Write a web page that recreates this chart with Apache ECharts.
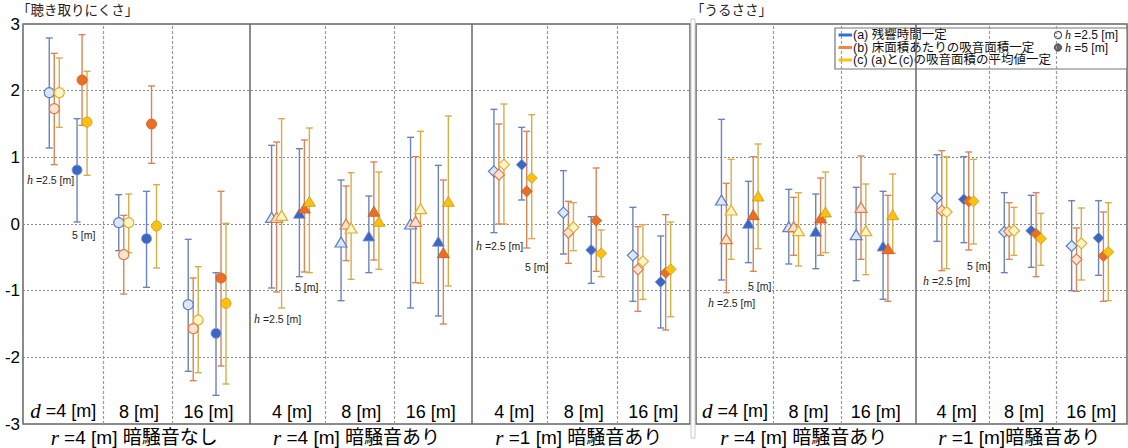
<!DOCTYPE html>
<html><head><meta charset="utf-8">
<script src="https://cdn.jsdelivr.net/npm/echarts@6/dist/echarts.min.js"></script>
<style>html,body{margin:0;padding:0;background:#fff}#c{width:1128px;height:448px}</style>
</head><body><div id="c"></div>
<script>
// ---------- data ----------
const subgroupLabels = ['d =4 [m]','8 [m]','16 [m]','4 [m]','8 [m]','16 [m]','4 [m]','8 [m]','16 [m]',
                        'd =4 [m]','8 [m]','16 [m]','4 [m]','8 [m]','16 [m]'];
const groupLabelsLeft = ['r =4 [m] 暗騒音なし','r =4 [m] 暗騒音あり','r =1 [m] 暗騒音あり'];
const groupLabelsRight = ['r =4 [m] 暗騒音あり','r =1 [m]暗騒音あり'];
const groupSymbolsLeft = ['circle','triangle','diamond'];
const groupSymbolsRight = ['triangle','diamond'];
const yTicks = [-3,-2,-1,0,1,2,3];
const titleLeft = '「聴き取りにくさ」';
const titleRight = '「うるささ」';
const methodNames = ['(a) 残響時間一定','(b) 床面積あたりの吸音面積一定','(c) (a)と(c)の吸音面積の平均値一定'];
const heightNames = ['h =2.5 [m]','h =5 [m]'];

// h = 2.5 m
const meanA25 = [1.97, 0.02, -1.21, 0.10, -0.27, 0.00, 0.79, 0.17, -0.47, 0.36, -0.04, -0.16, 0.39, -0.12, -0.33];
const hiA25   = [2.79, 0.44, -0.23, 1.18, 0.66, 1.30, 1.72, 0.80, 0.25, 1.57, 0.52, 0.55, 1.04, 0.47, 0.35];
const loA25   = [1.14, -0.40, -2.21, -0.96, -1.15, -1.26, -0.13, -0.45, -1.16, -0.84, -0.60, -0.85, -0.26, -0.73, -1.00];
const meanB25 = [1.73, -0.46, -1.57, 0.10, 0.00, 0.04, 0.74, -0.13, -0.68, -0.22, -0.04, 0.25, 0.20, -0.11, -0.53];
const hiB25   = [2.56, 0.13, -0.81, 1.23, 0.57, 1.01, 1.50, 0.34, -0.04, 0.61, 0.40, 1.02, 1.10, 0.32, -0.06];
const loB25   = [0.89, -1.05, -2.35, -1.02, -0.55, -0.88, 0.00, -0.59, -1.31, -1.03, -0.47, -0.53, -0.70, -0.53, -1.01];
const meanC25 = [1.97, 0.02, -1.44, 0.13, -0.06, 0.23, 0.89, -0.05, -0.56, 0.21, -0.10, -0.10, 0.18, -0.10, -0.29];
const hiC25   = [2.49, 0.45, -0.64, 1.58, 0.77, 1.39, 1.80, 0.32, -0.01, 0.97, 0.47, 0.60, 1.01, 0.25, 0.24];
const loC25   = [1.45, -0.43, -2.23, -1.26, -0.83, -0.89, 0.00, -0.40, -1.13, -0.53, -0.63, -0.76, -0.67, -0.47, -0.84];
// h = 5 m
const meanA5 = [0.81, -0.22, -1.64, 0.16, -0.18, -0.26, 0.89, -0.39, -0.87, 0.01, -0.11, -0.33, 0.37, -0.10, -0.21];
const hiA5   = [1.58, 0.49, -0.73, 1.13, 0.42, 0.88, 1.45, 0.11, -0.18, 0.64, 0.45, 0.49, 1.01, 0.43, 0.35];
const loA5   = [0.03, -0.95, -2.57, -0.79, -0.73, -1.38, 0.36, -0.89, -1.56, -0.58, -0.67, -1.13, -0.28, -0.65, -0.77];
const meanB5 = [2.16, 1.50, -0.81, 0.24, 0.19, -0.43, 0.49, 0.05, -0.73, 0.14, 0.09, -0.37, 0.34, -0.15, -0.48];
const hiB5   = [2.84, 2.07, 0.49, 1.26, 0.93, 0.66, 1.39, 0.84, 0.14, 1.01, 0.69, 0.43, 1.08, 0.47, 0.18];
const loB5   = [1.48, 0.91, -2.13, -0.72, -0.54, -1.50, -0.36, -0.71, -1.59, -0.71, -0.47, -1.16, -0.39, -0.79, -1.16];
const meanC5 = [1.53, -0.03, -1.19, 0.34, 0.04, 0.34, 0.69, -0.44, -0.68, 0.42, 0.18, 0.14, 0.34, -0.22, -0.42];
const hiC5   = [2.29, 0.59, 0.01, 1.44, 0.78, 1.62, 1.64, -0.09, 0.03, 1.20, 0.78, 0.75, 0.97, 0.16, 0.32];
const loC5   = [0.73, -0.66, -2.40, -0.73, -0.68, -0.93, -0.22, -0.79, -1.39, -0.37, -0.43, -0.44, -0.30, -0.62, -1.15];

// ---------- styling / layout ----------
const FONT = "'Liberation Sans','Noto Sans CJK JP',sans-serif";
const JFONT = "'Noto Sans CJK JP',sans-serif";
const SERIF = "'Liberation Serif','DejaVu Serif',serif";
const GROUP_W = 3.2, FIRST_PAD = 0.65, CLUSTER = 0.2, METHOD = 0.072, SOLID_SHIFT = 0.06;

const methods = [
  {name: methodNames[0], bar: '#6A84BA', fill5: '#3C67C0', edge5: '#7E9BD6', fill25: '#DDE7F6', edge25: '#5A7FC4', legend: '#2F72D6',
   mean: [meanA25, meanA5], lo: [loA25, loA5], hi: [hiA25, hiA5]},
  {name: methodNames[1], bar: '#D8855A', fill5: '#EC6E24', edge5: '#C85A1C', fill25: '#FCE3D3', edge25: '#E07A45', legend: '#F08545',
   mean: [meanB25, meanB5], lo: [loB25, loB5], hi: [hiB25, hiB5]},
  {name: methodNames[2], bar: '#D6AE48', fill5: '#FBC010', edge5: '#C99A10', fill25: '#FFF3C8', edge25: '#DDB030', legend: '#FFC20E',
   mean: [meanC25, meanC5], lo: [loC25, loC5], hi: [hiC25, hiC5]}
];

const panels = [
  {start: 0, count: 9, symbols: groupSymbolsLeft, groups: groupLabelsLeft},
  {start: 9, count: 6, symbols: groupSymbolsRight, groups: groupLabelsRight}
];

function subCenter(j) { return Math.floor(j / 3) * GROUP_W + FIRST_PAD + (j % 3); }
function symSize(s) { return s === 'circle' ? 10 : (s === 'triangle' ? [12, 10] : 11); }

function renderBar(params, api) {
  const x = api.value(0), lo = api.value(1), hi = api.value(2);
  const a = api.coord([x, lo]), b = api.coord([x, hi]);
  const cap = 3.5;
  const style = {stroke: api.visual('color'), lineWidth: 1.4, fill: null};
  return {type: 'group', children: [
    {type: 'line', shape: {x1: a[0], y1: a[1], x2: b[0], y2: b[1]}, style: style},
    {type: 'line', shape: {x1: a[0] - cap, y1: a[1], x2: a[0] + cap, y2: a[1]}, style: style},
    {type: 'line', shape: {x1: b[0] - cap, y1: b[1], x2: b[0] + cap, y2: b[1]}, style: style}
  ]};
}

const italicRich = {i: {fontFamily: SERIF, fontStyle: 'italic', fontSize: 21, color: '#000'}};
function italicFirst(v) { return v[0] === 'd' || v[0] === 'r' || v[0] === 'h' ? '{i|' + v[0] + '}' + v.slice(1) : v; }

const barSeries = [], markerSeries = [], labelSeries = [];
panels.forEach((p, pi) => {
  const nGroups = p.count / 3;
  const lines = [];
  for (let g = 0; g < nGroups; g++) {
    lines.push({xAxis: g * GROUP_W + FIRST_PAD + 0.5, lineStyle: {type: [3, 2], color: '#9a9a9a', width: 1.2}});
    lines.push({xAxis: g * GROUP_W + FIRST_PAD + 1.5, lineStyle: {type: [3, 2], color: '#9a9a9a', width: 1.2}});
    if (g > 0) lines.push({xAxis: g * GROUP_W + SOLID_SHIFT, lineStyle: {type: 'solid', color: '#666', width: 1.5}});
  }
  let first = true;
  methods.forEach((m, mi) => {
    [0, 1].forEach(h => {
      const barData = [], mkData = [];
      for (let j = 0; j < p.count; j++) {
        const i = p.start + j;
        const x = subCenter(j) + (h === 0 ? -CLUSTER : CLUSTER) + (mi - 1) * METHOD;
        barData.push([x, m.lo[h][i], m.hi[h][i]]);
        const s = p.symbols[Math.floor(j / 3)];
        mkData.push({value: [x, m.mean[h][i]], symbol: s, symbolSize: symSize(s)});
      }
      const bs = {
        type: 'custom', name: m.name, xAxisIndex: pi * 2, yAxisIndex: pi,
        renderItem: renderBar, encode: {x: 0, y: [1, 2]}, data: barData,
        itemStyle: {color: m.bar}, silent: true, z: 2
      };
      if (first) {
        bs.markLine = {silent: true, symbol: ['none', 'none'], label: {show: false}, data: lines, z: 1};
        first = false;
      }
      barSeries.push(bs);
      markerSeries.push({
        type: 'scatter', name: m.name + ' ' + heightNames[h], xAxisIndex: pi * 2, yAxisIndex: pi,
        data: mkData, z: 3, silent: true,
        itemStyle: h === 0
          ? {color: m.fill25, borderColor: m.edge25, borderWidth: 1.2, opacity: 1}
          : {color: m.fill5, borderColor: m.edge5, borderWidth: 0.8, opacity: 1}
      });
    });
  });
  const lab = [];
  for (let j = 0; j < p.count; j++) lab.push([subCenter(j) + (j === 0 ? -0.07 : 0.02), -3, subgroupLabels[p.start + j]]);
  labelSeries.push({
    type: 'custom', xAxisIndex: pi * 2, yAxisIndex: pi, silent: true, z: 4, data: lab,
    renderItem: (params, api) => {
      const pt = api.coord([api.value(0), api.value(1)]);
      const txt = lab[params.dataIndex][2];
      return {type: 'text', x: pt[0], y: pt[1] - 3, style: {
        text: italicFirst(txt), rich: italicRich, align: 'center', verticalAlign: 'bottom',
        fontSize: 18, fontFamily: FONT, fill: '#000'}};
    }
  });
});

function annot(x, y, t) {
  return {type: 'text', x: x, y: y, z: 10, silent: true, style: {
    text: italicFirst(t), rich: {i: {fontFamily: SERIF, fontStyle: 'italic', fontSize: 12, color: '#222'}},
    fontSize: 10.5, fontFamily: FONT, fill: '#222', verticalAlign: 'middle', align: 'left'}};
}

const legendGraphic = {
  type: 'group', z: 20, children: [
    {type: 'rect', shape: {x: 835, y: 28, width: 292, height: 41}, style: {fill: '#fff', stroke: '#777', lineWidth: 1.2}},
    ...methods.map((m, k) => ({type: 'line', shape: {x1: 838.5, y1: 35 + k * 12.5, x2: 852, y2: 35 + k * 12.5}, style: {stroke: m.legend, lineWidth: 3}})),
    ...methods.map((m, k) => ({type: 'text', x: 853, y: 35 + k * 12.5, style: {text: m.name, fontSize: 12.5, fontFamily: FONT, fill: '#111', verticalAlign: 'middle'}})),
    {type: 'circle', shape: {cx: 1058, cy: 35, r: 3.6}, style: {fill: '#fff', stroke: '#555', lineWidth: 1.2}},
    {type: 'circle', shape: {cx: 1058, cy: 47.5, r: 3.6}, style: {fill: '#666', stroke: '#444', lineWidth: 1}},
    ...heightNames.map((t, k) => ({type: 'text', x: 1065, y: 35 + k * 12.5, style: {
      text: italicFirst(t), rich: {i: {fontFamily: SERIF, fontStyle: 'italic', fontSize: 12, color: '#111'}},
      fontSize: 12, fontFamily: FONT, fill: '#111', verticalAlign: 'middle'}}))
  ]
};

const chart = echarts.init(document.getElementById('c'), null, {renderer: 'svg'});
const yCommon = {type: 'value', min: yTicks[0], max: yTicks[yTicks.length - 1], interval: 1,
  axisLine: {show: false}, axisTick: {show: false},
  splitLine: {show: true, lineStyle: {color: '#8a8a8a', type: [2, 2], width: 1}}};

chart.setOption({
  animation: false,
  backgroundColor: '#fff',
  title: [
    {text: titleLeft, left: 17, top: 2, padding: 0, textStyle: {fontSize: 13.5, fontWeight: 'normal', fontFamily: JFONT, color: '#222'}},
    {text: titleRight, left: 691, top: 2, padding: 0, textStyle: {fontSize: 13.5, fontWeight: 'normal', fontFamily: JFONT, color: '#222'}}
  ],
  grid: [
    {left: 23, top: 24, width: 667, height: 404, show: true, borderColor: '#666', borderWidth: 1.5, backgroundColor: 'transparent'},
    {left: 696, top: 24, width: 431, height: 404, show: true, borderColor: '#666', borderWidth: 1.5, backgroundColor: 'transparent'}
  ],
  xAxis: [
    {type: 'value', gridIndex: 0, min: 0, max: 3 * GROUP_W, show: false},
    {type: 'category', gridIndex: 0, data: groupLabelsLeft, position: 'bottom',
     axisLine: {show: false}, axisTick: {show: false}, splitLine: {show: false},
     axisLabel: {interval: 0, margin: 3, fontSize: 19, fontFamily: FONT, color: '#000', formatter: italicFirst, rich: italicRich}},
    {type: 'value', gridIndex: 1, min: 0, max: 2 * GROUP_W, show: false},
    {type: 'category', gridIndex: 1, data: groupLabelsRight, position: 'bottom',
     axisLine: {show: false}, axisTick: {show: false}, splitLine: {show: false},
     axisLabel: {interval: 0, margin: 3, fontSize: 19, fontFamily: FONT, color: '#000', formatter: italicFirst, rich: italicRich}}
  ],
  yAxis: [
    Object.assign({gridIndex: 0, axisLabel: {show: true, margin: 3, fontSize: 17, fontFamily: FONT, color: '#000'}}, yCommon),
    Object.assign({gridIndex: 1, axisLabel: {show: false}}, yCommon)
  ],
  graphic: [
    {type: 'rect', z: 5, silent: true, shape: {x: 691, y: 19, width: 4, height: 419}, style: {fill: '#fff', stroke: '#c8c8c8', lineWidth: 1}},
    annot(27, 180, 'h =2.5 [m]'), annot(72, 235, '5 [m]'),
    annot(254, 319, 'h =2.5 [m]'), annot(295, 287, '5 [m]'),
    annot(476, 246, 'h =2.5 [m]'), annot(525, 267, '5 [m]'),
    annot(708, 303, 'h =2.5 [m]'), annot(748, 286, '5 [m]'),
    annot(923, 281, 'h =2.5 [m]'), annot(967, 266, '5 [m]'),
    legendGraphic
  ],
  series: [...barSeries, ...markerSeries, ...labelSeries]
});
</script></body></html>
